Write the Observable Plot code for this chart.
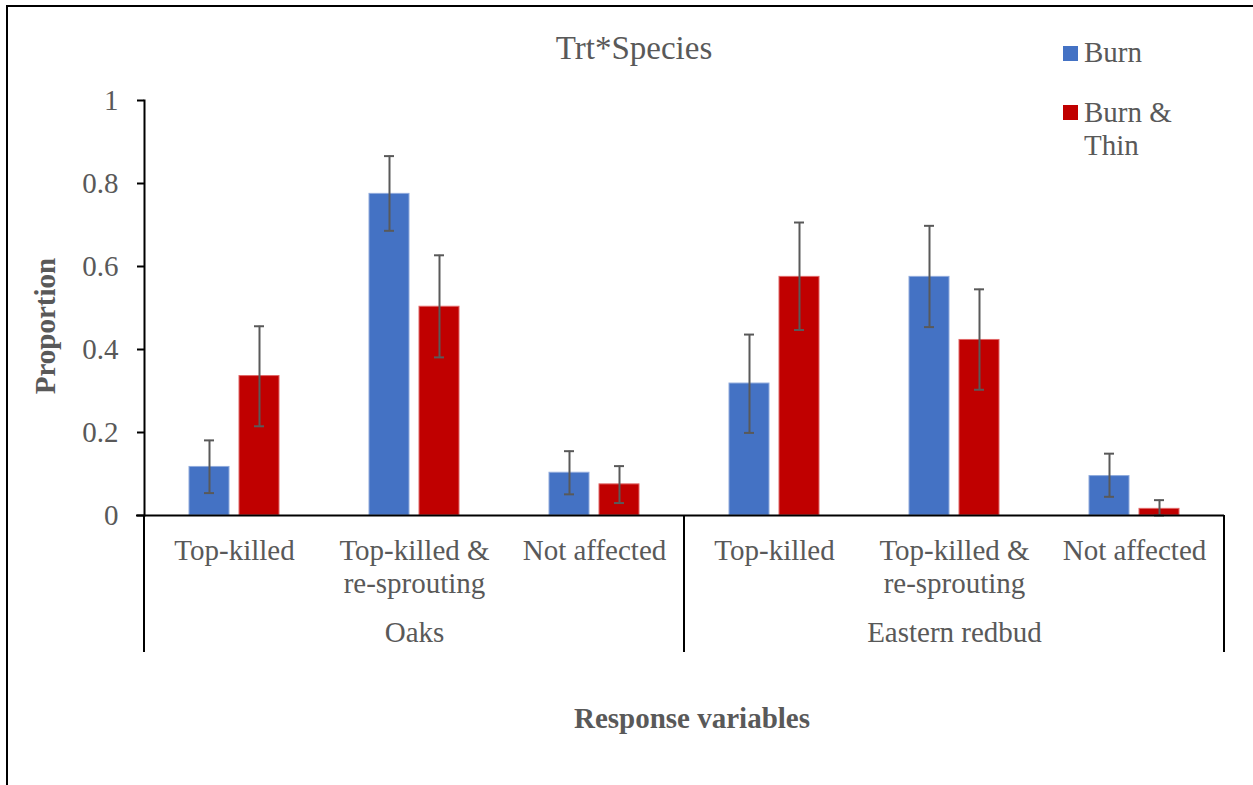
<!DOCTYPE html>
<html>
<head>
<meta charset="utf-8">
<script src="https://cdn.jsdelivr.net/npm/d3@7"></script>
<script src="https://cdn.jsdelivr.net/npm/@observablehq/plot@0.6"></script>
<style>
  html, body { margin: 0; padding: 0; background: #fff; }
  #wrap { position: relative; width: 1253px; height: 785px; overflow: hidden; font-family: "Liberation Serif", "Times New Roman", serif; color: #595959; }
  #border { position: absolute; left: 6px; top: 5px; right: -10px; bottom: -10px; border-left: 2px solid #000; border-top: 2px solid #000; }
  .abs { position: absolute; white-space: nowrap; }
  #title { left: 0; width: 1268px; text-align: center; top: 28px; font-size: 33px; line-height: 40px; }
  .sw { position: absolute; width: 15px; height: 15px; }
  .lg { position: absolute; font-size: 29px; line-height: 33px; }
  #ylab { left: 45px; top: 326px; font-size: 29px; font-weight: bold; transform: translate(-50%, -50%) rotate(-90deg); transform-origin: center; }
  #xlab { left: 0; width: 1384px; text-align: center; top: 700px; font-size: 29px; font-weight: bold; line-height: 36px; }
  #chart { position: absolute; left: 0; top: 0; }
</style>
</head>
<body>
<div id="wrap">
  <div id="border"></div>
  <div id="chart"></div>
  <div id="title" class="abs">Trt*Species</div>
  <div class="sw" style="left:1063px;top:46px;background:#4472C4"></div>
  <div class="lg" style="left:1084px;top:36px">Burn</div>
  <div class="sw" style="left:1063px;top:105px;background:#C00000"></div>
  <div class="lg" style="left:1084px;top:96px">Burn &amp;<br>Thin</div>
  <div id="ylab" class="abs" style="position:absolute">Proportion</div>
  <div id="xlab" class="abs">Response variables</div>
</div>
<script>
// ---- data ----
const species = ["Oaks", "Oaks", "Oaks", "Eastern redbud", "Eastern redbud", "Eastern redbud"];
const responses = ["Top-killed", "Top-killed & re-sprouting", "Not affected", "Top-killed", "Top-killed & re-sprouting", "Not affected"];
const tickLabels = ["Top-killed", "Top-killed &\nre-sprouting", "Not affected", "Top-killed", "Top-killed &\nre-sprouting", "Not affected"];
const burn = [0.117, 0.775, 0.103, 0.318, 0.575, 0.095];
const burnLow = [0.054, 0.686, 0.051, 0.199, 0.454, 0.045];
const burnHigh = [0.181, 0.866, 0.155, 0.436, 0.698, 0.149];
const thin = [0.336, 0.503, 0.075, 0.575, 0.423, 0.016];
const thinLow = [0.215, 0.381, 0.030, 0.447, 0.303, 0.000];
const thinHigh = [0.456, 0.627, 0.119, 0.706, 0.545, 0.037];
const yTicks = [0, 0.2, 0.4, 0.6, 0.8, 1];
const yTickLabels = ["0", "0.2", "0.4", "0.6", "0.8", "1"];

const keys = species.map((s, i) => s + "|" + responses[i]);
const rows = keys.map((k, i) => ({
  key: k, species: species[i], label: tickLabels[i],
  burn: burn[i], burnLow: burnLow[i], burnHigh: burnHigh[i],
  thin: thin[i], thinLow: thinLow[i], thinHigh: thinHigh[i]
}));
const speciesNames = [...new Set(species)];
const speciesRows = speciesNames.map(s => {
  const ks = keys.filter((k, i) => species[i] === s);
  return { species: s, mid: ks[Math.floor(ks.length / 2)], first: ks[0], last: ks[ks.length - 1] };
});

const gray = "#595959";
const font = "'Liberation Serif', 'Times New Roman', serif";

const chart = Plot.plot({
  width: 1253,
  height: 785,
  marginLeft: 144,
  marginRight: 29,
  marginTop: 100,
  marginBottom: 270,
  style: { fontFamily: font, color: gray, background: "transparent", overflow: "visible" },
  x: { domain: keys, padding: 0, axis: null },
  y: { domain: [0, 1], ticks: yTicks, tickFormat: d => yTickLabels[yTicks.indexOf(d)] },
  marks: [
    Plot.axisY({ ticks: yTicks, tickFormat: d => yTickLabels[yTicks.indexOf(d)], tickSize: 7, tickPadding: 19, fontSize: 29, stroke: "#000", strokeWidth: 2, color: gray, fill: gray, label: null }),
    Plot.barY(rows, { x: "key", y: "burn", fill: "#4472C4", insetLeft: 45, insetRight: 95, stroke: "#8FAADC", strokeWidth: 1 }),
    Plot.barY(rows, { x: "key", y: "thin", fill: "#C00000", insetLeft: 95, insetRight: 45, stroke: "#E06666", strokeWidth: 1 }),
    Plot.ruleX(rows, { x: "key", y1: "burnLow", y2: "burnHigh", dx: -25, stroke: gray, strokeWidth: 2 }),
    Plot.ruleX(rows, { x: "key", y1: "thinLow", y2: "thinHigh", dx: 25, stroke: gray, strokeWidth: 2 }),
    Plot.tickY(rows, { x: "key", y: "burnLow", insetLeft: 60, insetRight: 110, stroke: gray, strokeWidth: 2 }),
    Plot.tickY(rows, { x: "key", y: "burnHigh", insetLeft: 60, insetRight: 110, stroke: gray, strokeWidth: 2 }),
    Plot.tickY(rows, { x: "key", y: "thinLow", insetLeft: 110, insetRight: 60, stroke: gray, strokeWidth: 2 }),
    Plot.tickY(rows, { x: "key", y: "thinHigh", insetLeft: 110, insetRight: 60, stroke: gray, strokeWidth: 2 }),
    Plot.frame({ anchor: "left", stroke: "#000", strokeWidth: 2 }),
    Plot.ruleY([0], { stroke: "#000", strokeWidth: 2, insetLeft: -8 }),
    Plot.text(rows, { x: "key", text: "label", frameAnchor: "bottom", lineAnchor: "top", dy: 21, fontSize: 29, lineHeight: 1.14, fill: gray }),
    Plot.text(speciesRows, { x: "mid", text: "species", frameAnchor: "bottom", lineAnchor: "top", dy: 106, fontSize: 29, fill: gray })
  ]
});
document.getElementById("chart").appendChild(chart);

// category-group separators drawn below the axis, positioned from the x scale
const sx = chart.scale("x");
const sy = chart.scale("y");
const y0 = sy.apply(0);
const bw = sx.bandwidth;
const xs = [];
speciesRows.forEach((r, i) => {
  xs.push(sx.apply(r.first));
  if (i === speciesRows.length - 1) xs.push(sx.apply(r.last) + bw);
});
const svg = d3.select(chart);
xs.forEach(x => {
  svg.append("line").attr("x1", x).attr("x2", x).attr("y1", y0).attr("y2", y0 + 137)
    .attr("stroke", "#000").attr("stroke-width", 2);
});
</script>
</body>
</html>
